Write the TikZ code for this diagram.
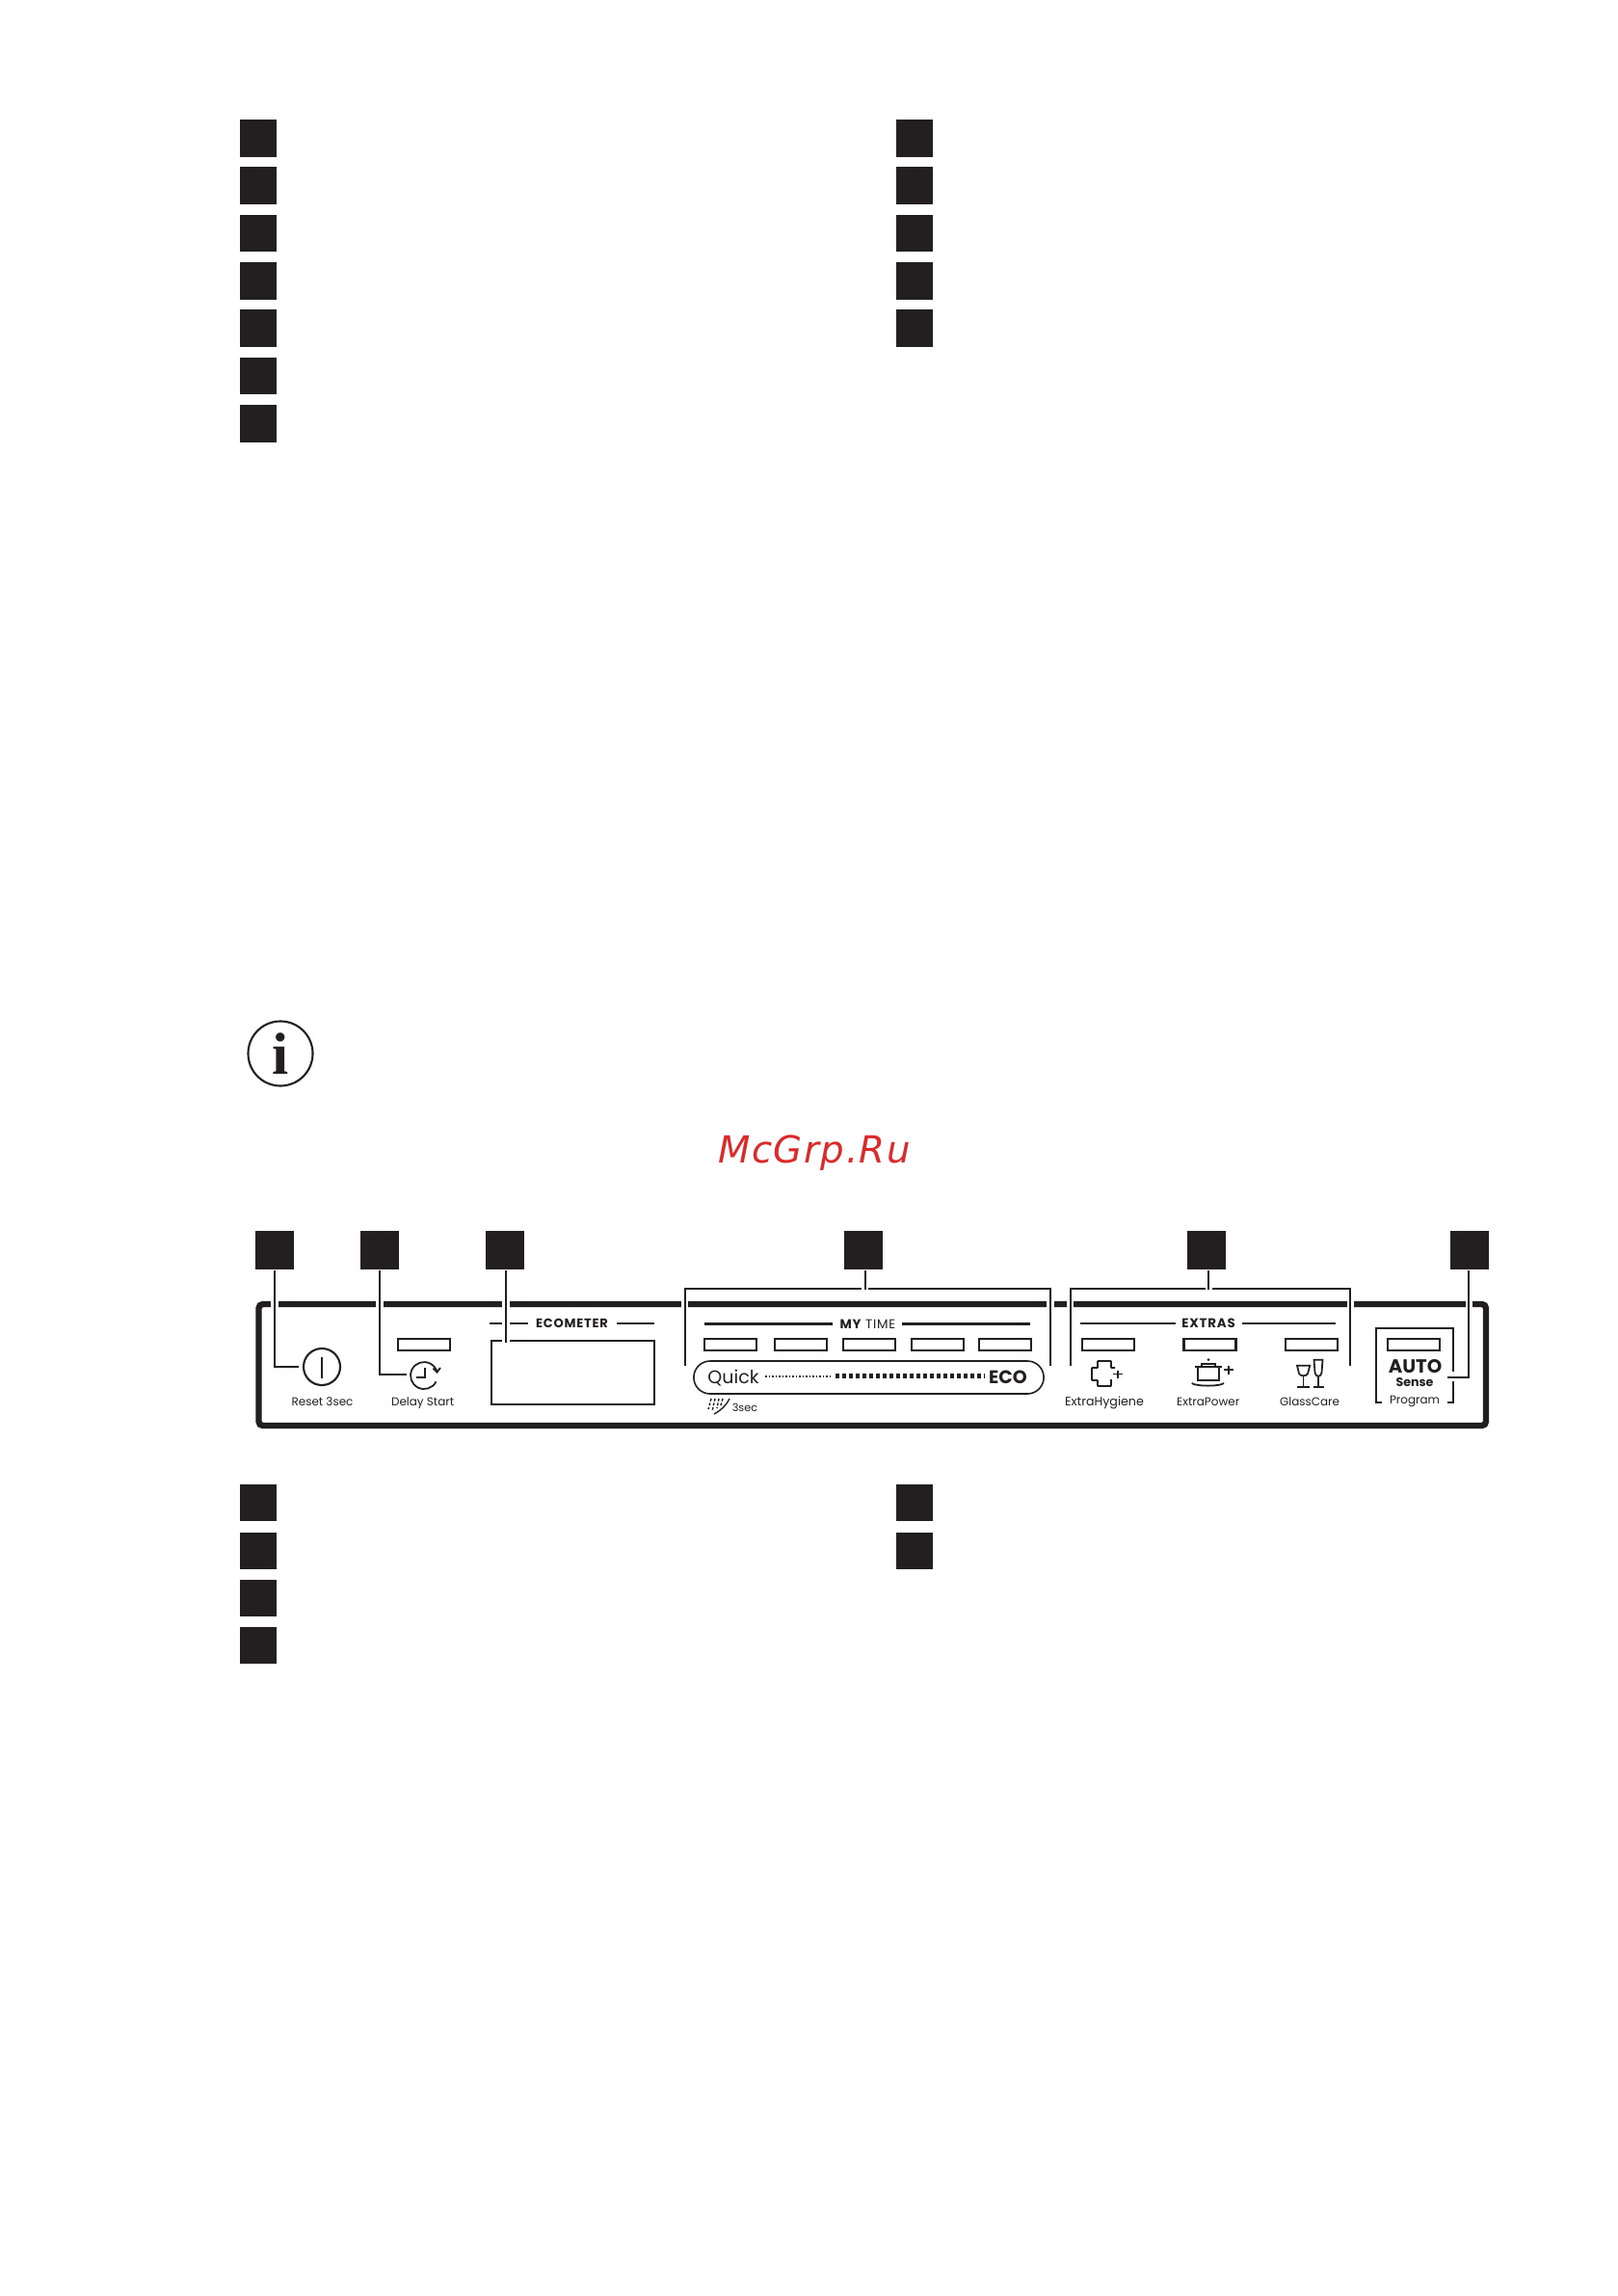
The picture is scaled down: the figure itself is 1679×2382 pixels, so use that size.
\documentclass[tikz,border=0pt]{standalone}
\usepackage{fontspec}
\setmainfont{Poppins}
\newfontfamily\headfont[LetterSpace=6]{Poppins}
\newfontfamily\wmfont[LetterSpace=4]{DejaVu Sans}
\usetikzlibrary{arrows,positioning}

\definecolor{ink}{HTML}{231F20}
\definecolor{wmred}{HTML}{DC2A2A}

\tikzset{
  numbox/.style={fill=ink,draw=none,inner sep=0,minimum width=0.38cm,minimum height=0.38cm},
  bignum/.style={fill=ink,draw=none,inner sep=0,minimum width=0.40cm,minimum height=0.40cm},
  leader/.style={ink,line width=.6pt,preaction={draw=white,line width=2pt}},
  thinline/.style={ink,line width=.6pt},
  iconline/.style={ink,line width=.5pt},
  ledbox/.style={draw=ink,line width=.6pt,inner sep=0,minimum width=0.54cm,minimum height=0.12cm},
  paneltxt/.style={ink,inner sep=0,anchor=base,font=\fontsize{3.4}{4}\selectfont},
}

\begin{document}
\begin{tikzpicture}[x=0.01cm,y=-0.01cm]
\useasboundingbox (0,0) rectangle (1679,2382);

% upper list
\node[numbox] (a1) at (268,143.5) {};
\node[numbox] (a2) at (268,192.5) {};
\node[numbox] (a3) at (268,242) {};
\node[numbox] (a4) at (268,291.5) {};
\node[numbox] (a5) at (268,340.5) {};
\node[numbox] (a6) at (268,390) {};
\node[numbox] (a7) at (268,439.5) {};
\node[numbox] (a8) at (948.5,143.5) {};
\node[numbox] (a9) at (948.5,192.5) {};
\node[numbox] (a10) at (948.5,242) {};
\node[numbox] (a11) at (948.5,291.5) {};
\node[numbox] (a12) at (948.5,340.5) {};

% info sign
\node[circle,draw=ink,line width=.6pt,minimum size=0.67cm,inner sep=0] (info) at (291,1093) {};
\node[ink,inner sep=0,font=\bfseries\fontsize{17.5}{18}\selectfont\rmfamily] (infoi) at (291,1093) {\fontspec{Liberation Serif}\bfseries i};

\node[wmred,inner sep=0,anchor=base,font=\wmfont\itshape\fontsize{11}{12}\selectfont] (mark) at (845,1206) {McGrp.Ru};

% panel
\draw[ink,line width=1.8pt,rounded corners=1.2pt] (268.5,1353) rectangle (1542,1479);

\node[bignum] (p1) at (285,1297) {};
\node[bignum] (p2) at (394,1297) {};
\node[bignum] (p3) at (524,1297) {};
\node[bignum] (p4) at (896,1297) {};
\node[bignum] (p5) at (1252,1297) {};
\node[bignum] (p6) at (1525,1297) {};

% ecometer
\node[ink,inner sep=0,font=\headfont\bfseries\fontsize{3.7}{4}\selectfont] (ecotitle) at (593.5,1373) {ECOMETER};
\draw[thinline] (508,1373) -- (548,1373);
\draw[thinline] (640,1373) -- (678.6,1373);
\node[draw=ink,line width=.6pt,inner sep=0,minimum width=1.69cm,minimum height=0.66cm] (ecobox) at (594.5,1424) {};

% my time
\node[ink,inner sep=0,font=\headfont\fontsize{3.8}{4}\selectfont] (timetitle) at (900.5,1373.5) {{\bfseries MY} TIME};
\draw[thinline] (731,1373.5) -- (864,1373.5);
\draw[thinline] (936,1373.5) -- (1069,1373.5);
\node[ledbox] (t1) at (758,1395) {};
\node[ledbox] (t2) at (830.7,1395) {};
\node[ledbox] (t3) at (902,1395) {};
\node[ledbox] (t4) at (973,1395) {};
\node[ledbox] (t5) at (1043,1395) {};
\node[draw=ink,line width=.45pt,rounded corners=0.17cm,inner sep=0,minimum width=3.63cm,minimum height=0.34cm] (pill) at (901.5,1429) {};
\node[paneltxt,font=\fontsize{5.4}{6}\selectfont] (quick) at (761,1435) {Quick};
\draw[ink,line width=.55pt,dash pattern=on .45pt off .55pt] (794,1427.7) -- (861,1427.7);
\draw[ink,line width=1.3pt,dash pattern=on 1.15pt off .85pt] (866.7,1427.7) -- (1022,1427.7);
\node[paneltxt,font=\bfseries\fontsize{5.4}{6}\selectfont] (eco) at (1046,1435) {ECO};
\node[paneltxt,font=\fontsize{3.2}{4}\selectfont] (rinse) at (773,1464) {3sec};
% rinse mark
\draw[iconline,line width=.4pt] (757,1451) .. controls (753,1459) and (748,1463) .. (741,1467);
\draw[iconline,line width=.4pt,dash pattern=on .8pt off .5pt] (738,1451) -- (735,1462);
\draw[iconline,line width=.4pt,dash pattern=on .8pt off .5pt] (742,1451) -- (739,1464);
\draw[iconline,line width=.4pt,dash pattern=on .8pt off .5pt] (746,1451) -- (744,1461);
\draw[iconline,line width=.4pt,dash pattern=on .8pt off .5pt] (750,1451) -- (748,1458);

% extras
\node[ink,inner sep=0,font=\headfont\bfseries\fontsize{3.8}{4}\selectfont] (extratitle) at (1254,1373) {EXTRAS};
\draw[thinline] (1121,1373) -- (1219.6,1373);
\draw[thinline] (1288.5,1373) -- (1386,1373);
\node[ledbox] (e1) at (1150,1395) {};
\node[ledbox] (e2) at (1255.5,1395) {};
\node[ledbox] (e3) at (1361,1395) {};
% extra hygiene
\draw[iconline,rounded corners=.2pt] (1157,1419) -- (1153,1419) -- (1153,1412) -- (1139,1412) -- (1139,1419) -- (1133,1419) -- (1133,1432) -- (1139,1432) -- (1139,1438) -- (1153,1438) -- (1153,1431);
\draw[iconline] (1155,1425.5) -- (1165,1425.5) (1160,1421.5) -- (1160,1430);
% extra power
\fill[ink] (1254,1410.7) circle (1.5);
\draw[iconline] (1240,1418) -- (1268,1418);
\draw[iconline] (1243,1418) -- (1243,1431.7) -- (1265,1431.7) -- (1265,1418);
\draw[iconline] (1247,1418) -- (1247,1415) -- (1261,1415) -- (1261,1418);
\draw[iconline] (1236.7,1435) .. controls (1241,1438.5) and (1266,1438.5) .. (1270,1435);
\draw[iconline,line width=.6pt] (1270,1421) -- (1280,1421) (1275,1416.7) -- (1275,1426);
% glass care
\draw[iconline] (1346,1416.7) -- (1359.3,1416.7) -- (1357,1425) .. controls (1356,1428) and (1349,1428) .. (1348,1425) -- cycle;
\draw[iconline] (1352.6,1428) -- (1352.6,1439) (1346,1439) -- (1359.3,1439);
\draw[iconline] (1363.5,1410.7) -- (1372.5,1410.7) -- (1371.5,1424) .. controls (1371,1429) and (1365,1429) .. (1364.5,1424) -- cycle;
\draw[iconline] (1368,1428) -- (1368,1439) (1362.5,1439) -- (1373.5,1439);
\node[paneltxt,font=\fontsize{3.6}{4}\selectfont] (hyg) at (1146,1458) {ExtraHygiene};
\node[paneltxt] (pow) at (1253.7,1458) {ExtraPower};
\node[paneltxt] (glass) at (1359,1458) {GlassCare};

% auto sense
\draw[thinline] (1434,1455) -- (1428,1455) -- (1428,1377.7) -- (1508,1377.7) -- (1508,1423);
\draw[thinline] (1508,1433) -- (1508,1455) -- (1502,1455);
\node[ledbox] (autoled) at (1467,1395) {};
\node[paneltxt,font=\bfseries\fontsize{5.6}{6}\selectfont] (auto) at (1468.5,1424) {AUTO};
\node[paneltxt,font=\bfseries\fontsize{3.6}{4}\selectfont] (sense) at (1468,1438) {Sense};
\node[paneltxt] (prog) at (1468,1456) {Program};

% buttons
\node[circle,draw=ink,line width=.6pt,minimum size=0.38cm,inner sep=0] (resetbtn) at (334,1418) {};
\draw[iconline] (334,1407.7) -- (334,1430);
\node[paneltxt] (reset) at (334.5,1458.5) {Reset 3sec};
\node[ledbox] (delayled) at (439.7,1395) {};
\draw[iconline] (440.7,1419) -- (440.7,1429) -- (432,1429);
\draw[iconline] (452.5,1433.4) arc (27:345:14);
\draw[iconline] (449.5,1419.5) -- (453.5,1423.6) -- (457,1419);
\node[paneltxt] (delay) at (438.6,1458) {Delay Start};

% leaders
\coordinate (clockend) at (421.7,1425.7);
\coordinate (ecoend) at (525,1393);
\coordinate (autoend) at (1502,1429);
\draw[leader,shorten >=1.1pt] (p1.south) |- (resetbtn.west);
\draw[leader] (p2.south) |- (clockend);
\draw[leader] (p3.south) ++(1,0) -- (ecoend);
\draw[leader] (p6.south) ++(-1,0) |- (autoend);

\coordinate (l4) at (710.6,1417);
\coordinate (r4) at (1090,1417);
\coordinate (l5) at (1110.8,1417);
\coordinate (r5) at (1401,1417);
\draw[leader] (l4) |- (r4 |- 0,1337) -- (r4);
\draw[leader] (l5) |- (r5 |- 0,1337) -- (r5);
\draw[leader] (p4.south) ++(1.7,0) -- ++(0,20);
\draw[leader] (p5.south) ++(2,0) -- ++(0,20);

% lower list
\node[numbox] (b1) at (268,1559) {};
\node[numbox] (b2) at (268,1608.5) {};
\node[numbox] (b3) at (268,1658) {};
\node[numbox] (b4) at (268,1707) {};
\node[numbox] (b5) at (948.5,1559) {};
\node[numbox] (b6) at (948.5,1608.5) {};

\end{tikzpicture}
\end{document}
